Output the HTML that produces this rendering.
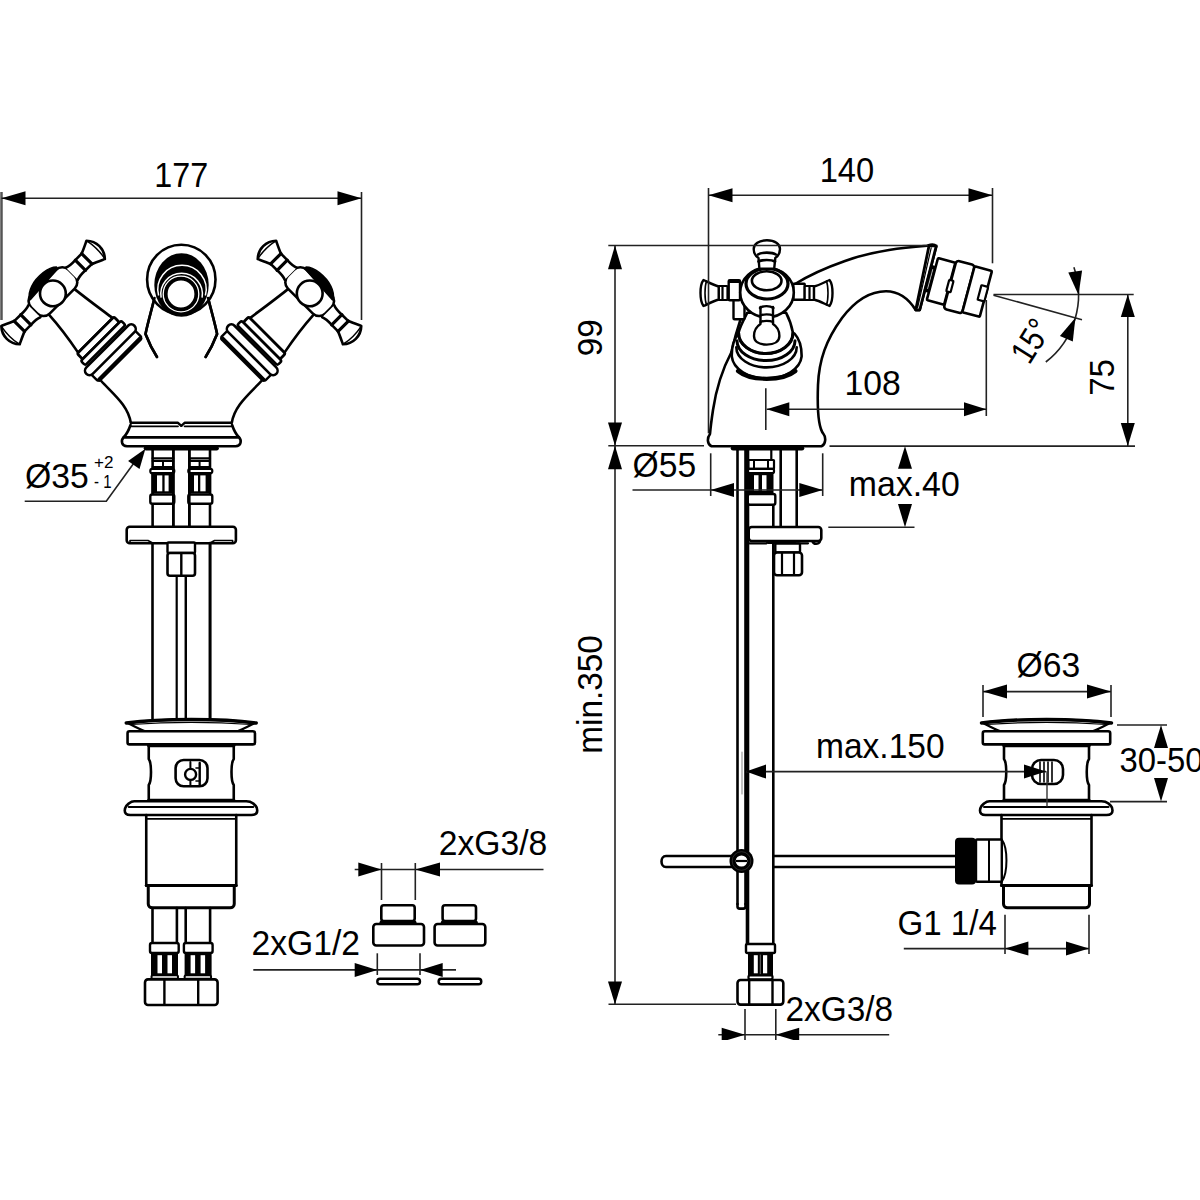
<!DOCTYPE html>
<html><head><meta charset="utf-8"><style>
html,body{margin:0;padding:0;background:#fff;}
svg{display:block;}
text{font-family:"Liberation Sans",sans-serif;fill:#000;}
</style></head><body>
<svg width="1200" height="1200" viewBox="0 0 1200 1200">
<rect width="1200" height="1200" fill="#fff"/>
<g>
<g id="lh">
<g transform="translate(53.1,292.5) rotate(-45)">
<path d="M-18.5,12 C-19.5,30 -22,46 -24.8,60.2 L24,60.2 C22,46 19.5,30 17.5,12" stroke="#000" stroke-width="2.6" fill="#fff" stroke-linejoin="round" stroke-linecap="round" />
<rect x="-26.20" y="60.20" width="52.00" height="7.80" rx="2" stroke="#000" stroke-width="2.8" fill="#fff"/>
<rect x="-28.80" y="68.00" width="57.00" height="6.20" rx="2" stroke="#000" stroke-width="2.6" fill="#fff"/>
<rect x="-31.00" y="81.00" width="62.00" height="13.00" rx="1" stroke="#000" stroke-width="2.4" fill="#fff"/>
<rect x="-34.00" y="76.50" width="68.00" height="9.00" rx="4.5" stroke="#000" stroke-width="2.6" fill="#fff"/>
<path d="M-29,94.3 L29,94.3" stroke="#000" stroke-width="4.4" fill="none" stroke-linejoin="round" stroke-linecap="round" />
<rect x="-26" y="-14" width="53" height="26.5" rx="9" stroke="#000" stroke-width="2.6" fill="#fff"/>
<path d="M-22,-11.5 C-17,-19 -6,-22.5 7,-21 C13,-20.3 17.5,-18.5 20.5,-15.5 L20,-13.5 L-21,-11 Z" stroke="#000" stroke-width="1.5" fill="#000" stroke-linejoin="round" stroke-linecap="round" />
<g transform="scale(1,1)">
<path d="M26.5,-8.5 C30,-7 34,-7 38.6,-7.2 L47.7,-7.3 C52,-9 56,-11 60.2,-13 A18.6,18.6 0 0 1 60.2,13 C56,11 52,9 47.7,7.3 L38.6,7.2 C34,7 30,7 26.5,8.5" stroke="#000" stroke-width="2.6" fill="#fff" stroke-linejoin="round" stroke-linecap="round" />
<line x1="38.60" y1="-7.20" x2="38.60" y2="7.20" stroke="#000" stroke-width="3.2" stroke-linecap="round"/>
<line x1="47.70" y1="-7.30" x2="47.70" y2="7.30" stroke="#000" stroke-width="3.2" stroke-linecap="round"/>
<path d="M60.5,-12.3 C62,-5 62,5 60.5,12.3" stroke="#000" stroke-width="1.5" fill="none" stroke-linejoin="round" stroke-linecap="round" />
</g>
<g transform="scale(-1,1)">
<path d="M26.5,-8.5 C30,-7 34,-7 38.6,-7.2 L47.7,-7.3 C52,-9 56,-11 60.2,-13 A18.6,18.6 0 0 1 60.2,13 C56,11 52,9 47.7,7.3 L38.6,7.2 C34,7 30,7 26.5,8.5" stroke="#000" stroke-width="2.6" fill="#fff" stroke-linejoin="round" stroke-linecap="round" />
<line x1="38.60" y1="-7.20" x2="38.60" y2="7.20" stroke="#000" stroke-width="3.2" stroke-linecap="round"/>
<line x1="47.70" y1="-7.30" x2="47.70" y2="7.30" stroke="#000" stroke-width="3.2" stroke-linecap="round"/>
<path d="M60.5,-12.3 C62,-5 62,5 60.5,12.3" stroke="#000" stroke-width="1.5" fill="none" stroke-linejoin="round" stroke-linecap="round" />
</g>
<ellipse cx="-0.8" cy="0.5" rx="12.9" ry="12.9" stroke="#000" stroke-width="2.6" fill="#fff"/>
</g>
<path d="M100.8,380.5 C113,394 128,405 130.8,422.8" stroke="#000" stroke-width="2.6" fill="none" stroke-linejoin="round" stroke-linecap="round" />
<path d="M154.5,298 C151,312 147.5,324 145.5,334 C149,343 152.5,350 157,357" stroke="#000" stroke-width="2.6" fill="none" stroke-linejoin="round" stroke-linecap="round" />
<path d="M131,422.8 L178,422.8 L181.3,425.8" stroke="#000" stroke-width="2.4" fill="none" stroke-linejoin="round" stroke-linecap="round" />
<path d="M130,426.3 L178,426.3" stroke="#000" stroke-width="1.8" fill="none" stroke-linejoin="round" stroke-linecap="round" />
<path d="M130.5,425 C128.5,431 126,435 123.5,437.5" stroke="#000" stroke-width="2.6" fill="none" stroke-linejoin="round" stroke-linecap="round" />
<line x1="152.60" y1="450.00" x2="152.60" y2="526.00" stroke="#000" stroke-width="2.6" stroke-linecap="round"/>
<line x1="173.30" y1="450.00" x2="173.30" y2="526.00" stroke="#000" stroke-width="2.6" stroke-linecap="round"/>
<line x1="152.60" y1="458.30" x2="173.30" y2="458.30" stroke="#000" stroke-width="2.2" stroke-linecap="round"/>
<line x1="152.60" y1="461.00" x2="173.30" y2="461.00" stroke="#000" stroke-width="2" stroke-linecap="round"/>
<line x1="152.60" y1="467.00" x2="173.30" y2="467.00" stroke="#000" stroke-width="2" stroke-linecap="round"/>
<line x1="163.00" y1="461.00" x2="163.00" y2="467.00" stroke="#000" stroke-width="2" stroke-linecap="round"/>
<rect x="150.30" y="468.80" width="24.00" height="4.40" rx="2" stroke="#000" stroke-width="2.2" fill="#fff"/>
<rect x="151.50" y="473.20" width="22.00" height="20.30" rx="0" stroke="none" fill="#000"/>
<rect x="157.00" y="475.40" width="5.30" height="15.90" rx="0" stroke="none" fill="#fff"/>
<rect x="164.60" y="475.40" width="4.00" height="15.90" rx="0" stroke="none" fill="#fff"/>
<rect x="150.30" y="494.50" width="24.00" height="9.30" rx="2" stroke="#000" stroke-width="2.4" fill="#fff"/>
<line x1="152.50" y1="543.00" x2="152.50" y2="722.00" stroke="#000" stroke-width="2.6" stroke-linecap="round"/>
<line x1="176.70" y1="576.00" x2="176.70" y2="722.00" stroke="#000" stroke-width="2.2" stroke-linecap="round"/>
<line x1="152.50" y1="908.00" x2="152.50" y2="943.00" stroke="#000" stroke-width="2.6" stroke-linecap="round"/>
<line x1="176.90" y1="908.00" x2="176.90" y2="943.00" stroke="#000" stroke-width="2.6" stroke-linecap="round"/>
<rect x="150.00" y="943.00" width="28.70" height="10.00" rx="2" stroke="#000" stroke-width="2.4" fill="#fff"/>
<rect x="151.00" y="953.00" width="27.00" height="22.50" rx="0" stroke="none" fill="#000"/>
<rect x="157.50" y="955.20" width="4.50" height="18.10" rx="0" stroke="none" fill="#fff"/>
<rect x="167.50" y="955.20" width="4.50" height="18.10" rx="0" stroke="none" fill="#fff"/>
<rect x="151.50" y="975.30" width="26.50" height="3.50" rx="1.5" stroke="#000" stroke-width="2" fill="#fff"/>
<line x1="164.40" y1="980.00" x2="164.40" y2="1004.50" stroke="#000" stroke-width="2.4" stroke-linecap="round"/>
</g>
<use href="#lh" transform="translate(362.6,0) scale(-1,1)"/>
<path d="M123.5,437.5 C121,440 121,446 127,446.2 L235.6,446.2 C241.6,446 241.6,440 239.1,437.5 Z" stroke="#000" stroke-width="2.6" fill="#fff" stroke-linejoin="round" stroke-linecap="round" />
<line x1="124.00" y1="437.00" x2="238.60" y2="437.00" stroke="#000" stroke-width="2.2" stroke-linecap="round"/>
<line x1="146.00" y1="448.30" x2="216.60" y2="448.30" stroke="#000" stroke-width="4.5" stroke-linecap="round"/>
<ellipse cx="181.3" cy="279.5" rx="34.2" ry="34.8" stroke="#000" stroke-width="2.6" fill="#fff"/>
<ellipse cx="181.5" cy="285" rx="27.2" ry="31.8" fill="#000"/>
<path d="M158.62,295.51 A24.2,24 0 1 1 205.38,295.51" stroke="#fff" stroke-width="1.5" fill="none"/>
<path d="M161.12,297.59 A20.8,20.7 0 1 1 202.08,297.59" stroke="#fff" stroke-width="1.5" fill="none"/>
<ellipse cx="181" cy="294" rx="17.8" ry="17.8" stroke="#fff" stroke-width="1.3" fill="none"/>
<ellipse cx="181" cy="294" rx="15" ry="15" stroke="#000" stroke-width="3.2" fill="#fff"/>
<path d="M154.5,298 C151,312 147.5,324 145.5,334 C149,343 152.5,350 157,357" stroke="#000" stroke-width="2.6" fill="none" stroke-linejoin="round" stroke-linecap="round" />
<path d="M208.1,298 C211.6,312 215.1,324 217.1,334 C213.6,343 210.1,350 205.6,357" stroke="#000" stroke-width="2.6" fill="none" stroke-linejoin="round" stroke-linecap="round" />
<line x1="173.30" y1="450.00" x2="173.30" y2="526.00" stroke="#000" stroke-width="2.6" stroke-linecap="round"/>
<line x1="189.30" y1="450.00" x2="189.30" y2="526.00" stroke="#000" stroke-width="2.6" stroke-linecap="round"/>
<rect x="126.70" y="526.70" width="109.20" height="16.60" rx="3" stroke="#000" stroke-width="2.6" fill="#fff"/>
<path d="M130,543 L130,540.5 L148,540.5 L152.6,543" stroke="#000" stroke-width="1.6" fill="none" stroke-linejoin="round" stroke-linecap="round" />
<path d="M232.6,543 L232.6,540.5 L214.6,540.5 L210,543" stroke="#000" stroke-width="1.6" fill="none" stroke-linejoin="round" stroke-linecap="round" />
<line x1="210.00" y1="543.00" x2="210.00" y2="722.00" stroke="#000" stroke-width="2.6" stroke-linecap="round"/>
<line x1="185.80" y1="576.00" x2="185.80" y2="722.00" stroke="#000" stroke-width="2.2" stroke-linecap="round"/>
<rect x="167.50" y="542.50" width="27.50" height="10.50" rx="1" stroke="#000" stroke-width="2.4" fill="#fff"/>
<rect x="167.50" y="553.00" width="27.50" height="22.80" rx="2.5" stroke="#000" stroke-width="2.6" fill="#fff"/>
<line x1="181.30" y1="554.00" x2="181.30" y2="575.50" stroke="#000" stroke-width="2.4" stroke-linecap="round"/>
<rect x="145.00" y="979.40" width="72.60" height="25.60" rx="3" stroke="#000" stroke-width="2.6" fill="#fff"/>
<line x1="164.40" y1="980.00" x2="164.40" y2="1004.50" stroke="#000" stroke-width="2.4" stroke-linecap="round"/>
<line x1="198.20" y1="980.00" x2="198.20" y2="1004.50" stroke="#000" stroke-width="2.4" stroke-linecap="round"/>
<g transform="translate(191.25,0)">
<path d="M-64,723 C-57,726 -52,729.5 -46,731.3 L46,731.3 C52,729.5 57,726 64,723 C50,721 25,719.3 0,719.3 C-25,719.3 -50,721 -64,723 Z" stroke="#000" stroke-width="2.2" fill="#fff" stroke-linejoin="round" stroke-linecap="round" />
<path d="M-65,723 C-50,721 -25,719.5 0,719.5 C25,719.5 50,721 65,723" stroke="#000" stroke-width="3.4" fill="none" stroke-linejoin="round" stroke-linecap="round" />
<path d="M-60,724.5 C-40,723 -20,722.3 0,722.3 C20,722.3 40,723 60,724.5" stroke="#000" stroke-width="1.2" fill="none" stroke-linejoin="round" stroke-linecap="round" />
<rect x="-63.70" y="731.30" width="127.40" height="13.10" rx="2" stroke="#000" stroke-width="2.6" fill="#fff"/>
<path d="M-42.5,744.5 L-42.5,759 C-39.5,763 -39.5,781 -42.5,785 L-42.5,800.5 M42.5,744.5 L42.5,759 C39.5,763 39.5,781 42.5,785 L42.5,800.5" stroke="#000" stroke-width="2.6" fill="none" stroke-linejoin="round" stroke-linecap="round" />
<line x1="-42.50" y1="745.50" x2="42.50" y2="745.50" stroke="#000" stroke-width="3.5" stroke-linecap="round"/>
<line x1="-42.50" y1="800.50" x2="42.50" y2="800.50" stroke="#000" stroke-width="3.5" stroke-linecap="round"/>
<path d="M-57,801.3 L55,801.3 C58,801.3 60,802 62,803.5 L64.5,806 C66,807.5 66,809 66,810.5 C66,813.5 64,815 60,815 L-61,815 C-65,815 -66.5,813.5 -66.5,810.5 C-66.5,809 -66,807.5 -65,806 L-62.5,803.5 C-60.5,802 -59,801.3 -57,801.3 Z" stroke="#000" stroke-width="2.6" fill="#fff" stroke-linejoin="round" stroke-linecap="round" />
<line x1="-62.50" y1="807.00" x2="62.00" y2="807.00" stroke="#000" stroke-width="2" stroke-linecap="round"/>
<line x1="-45.00" y1="815.00" x2="-45.00" y2="885.60" stroke="#000" stroke-width="2.6" stroke-linecap="round"/>
<line x1="45.00" y1="815.00" x2="45.00" y2="885.60" stroke="#000" stroke-width="2.6" stroke-linecap="round"/>
<line x1="-44.00" y1="818.80" x2="44.00" y2="818.80" stroke="#000" stroke-width="1.8" stroke-linecap="round"/>
<line x1="-45.00" y1="885.60" x2="45.00" y2="885.60" stroke="#000" stroke-width="3" stroke-linecap="round"/>
<path d="M-43,885.6 L-43,904 C-43,906.5 -41,907.8 -39,907.8 L39,907.8 C41,907.8 43,906.5 43,904 L43,885.6" stroke="#000" stroke-width="3" fill="none" stroke-linejoin="round" stroke-linecap="round" />
</g>
<rect x="175.60" y="760.00" width="31.90" height="26.30" rx="8" stroke="#000" stroke-width="2.6" fill="#fff"/>
<ellipse cx="190.6" cy="774.4" rx="5.5" ry="5.5" stroke="#000" stroke-width="2.4" fill="#fff"/>
<line x1="190.40" y1="762.00" x2="190.40" y2="768.50" stroke="#000" stroke-width="2" stroke-linecap="round"/>
<line x1="190.40" y1="780.00" x2="190.40" y2="786.00" stroke="#000" stroke-width="2" stroke-linecap="round"/>
<line x1="199.70" y1="763.00" x2="199.70" y2="785.00" stroke="#000" stroke-width="2.4" stroke-linecap="round"/>
<line x1="196.00" y1="768.00" x2="199.70" y2="768.00" stroke="#000" stroke-width="1.6" stroke-linecap="round"/>
<line x1="196.00" y1="781.00" x2="199.70" y2="781.00" stroke="#000" stroke-width="1.6" stroke-linecap="round"/>
<rect x="381.30" y="905.30" width="33.40" height="15.70" rx="2.5" stroke="#000" stroke-width="2.6" fill="#fff"/>
<line x1="381.30" y1="922.20" x2="414.70" y2="922.20" stroke="#000" stroke-width="3.5" stroke-linecap="round"/>
<rect x="373.30" y="924.00" width="50.70" height="21.50" rx="3" stroke="#000" stroke-width="2.6" fill="#fff"/>
<rect x="377.30" y="978.70" width="42.70" height="5.50" rx="2.7" stroke="#000" stroke-width="2.4" fill="#fff"/>
<rect x="442.60" y="905.30" width="33.40" height="15.70" rx="2.5" stroke="#000" stroke-width="2.6" fill="#fff"/>
<line x1="442.60" y1="922.20" x2="476.00" y2="922.20" stroke="#000" stroke-width="3.5" stroke-linecap="round"/>
<rect x="434.60" y="924.00" width="50.70" height="21.50" rx="3" stroke="#000" stroke-width="2.6" fill="#fff"/>
<rect x="438.60" y="978.70" width="42.70" height="5.50" rx="2.7" stroke="#000" stroke-width="2.4" fill="#fff"/>
<path d="M731.5,352 C722,370 716,390 713,410 C711.5,420 710.5,428 710,434 C707,438 707,444.5 711.5,446.2 L821.5,446.2 C826,444.5 826,437 823.5,434 C818.5,428 817,412 818,385 C819,360 826,340 842,318 C855,301 870,291.3 886,291.3 C898,291.3 908,298 915.7,310 L919.7,310 L936.3,246.5 C934,243.5 931,244.5 927,245.8 C905,247.5 875,250 845,261 C825,268 808,276 795,284" stroke="#000" stroke-width="2.6" fill="#fff" stroke-linejoin="round" stroke-linecap="round" />
<path d="M929,245.9 L936.3,245.9 L919.7,310 L915.7,310 Z" stroke="#000" stroke-width="2.8" fill="#fff" stroke-linejoin="round" stroke-linecap="round" />
<line x1="931.20" y1="247.80" x2="917.60" y2="307.60" stroke="#000" stroke-width="1.2" stroke-linecap="round"/>
<line x1="733.00" y1="448.30" x2="802.00" y2="448.30" stroke="#000" stroke-width="4.5" stroke-linecap="round"/>
<path d="M740.5,319.5 C737,330 734,341 731.5,352" stroke="#000" stroke-width="2.6" fill="none" stroke-linejoin="round" stroke-linecap="round" />
<path d="M738.5,333.5 C734,339 731.5,347 731.8,356.7 A35,23.7 0 0 0 801.6,356.7 C801.8,347 799.5,339 794.5,333.5 Z" stroke="#000" stroke-width="2.6" fill="#fff" stroke-linejoin="round" stroke-linecap="round" />
<path d="M738,371 C746,377.5 756,378.8 766.7,378.8 C777.4,378.8 787.4,377.5 795.4,371" stroke="#000" stroke-width="4.2" fill="none" stroke-linejoin="round" stroke-linecap="round" />
<path d="M736.30,347.20 A30.2,20.2 0 0 0 796.70,347.20" stroke="#000" stroke-width="2.6" fill="none" stroke-linejoin="round" stroke-linecap="round" />
<path d="M737.00,340.80 A29,19.8 0 0 0 795.00,340.80" stroke="#000" stroke-width="3" fill="none" stroke-linejoin="round" stroke-linecap="round" />
<path d="M747.3,312.7 C743,321 739.5,328 738.5,333 A27.2,20.5 0 0 0 793,333 C792,328 790.4,321 786,312.7 Z" stroke="#000" stroke-width="2.6" fill="#fff" stroke-linejoin="round" stroke-linecap="round" />
<path d="M738.55,333.00 A27.2,20.5 0 0 0 792.95,333.00" stroke="#000" stroke-width="3.2" fill="none" stroke-linejoin="round" stroke-linecap="round" />
<rect x="733.50" y="299.00" width="11.00" height="20.30" rx="1" stroke="#000" stroke-width="2.4" fill="#fff"/>
<rect x="728.70" y="280.20" width="11.30" height="20.10" rx="1" stroke="#000" stroke-width="2.4" fill="#fff"/>
<line x1="730.00" y1="281.50" x2="739.00" y2="281.50" stroke="#000" stroke-width="3" stroke-linecap="round"/>
<rect x="718.70" y="286.00" width="8.80" height="14.00" rx="0.5" stroke="#000" stroke-width="2.2" fill="#fff"/>
<line x1="722.50" y1="286.00" x2="722.50" y2="300.00" stroke="#000" stroke-width="2.2" stroke-linecap="round"/>
<path d="M718.7,286.5 C713,285 708,282 703.5,280 C699.5,285 699.5,301 703.5,306 C708,304 713,301 718.7,299.5 Z" stroke="#000" stroke-width="2.4" fill="#fff" stroke-linejoin="round" stroke-linecap="round" />
<path d="M706.5,281 C704.5,287 704.5,299 706.5,305" stroke="#000" stroke-width="1.6" fill="none" stroke-linejoin="round" stroke-linecap="round" />
<rect x="793.30" y="283.70" width="11.40" height="16.00" rx="0.5" stroke="#000" stroke-width="2.4" fill="#fff"/>
<rect x="804.70" y="286.00" width="9.30" height="14.00" rx="0.5" stroke="#000" stroke-width="2.2" fill="#fff"/>
<line x1="809.50" y1="286.00" x2="809.50" y2="300.00" stroke="#000" stroke-width="2.2" stroke-linecap="round"/>
<path d="M814,286.5 C819.7,285 824.7,282 829.5,280 C833.5,285 833.5,301 829.5,306 C824.7,304 819.7,301 814,299.5 Z" stroke="#000" stroke-width="2.4" fill="#fff" stroke-linejoin="round" stroke-linecap="round" />
<path d="M826.5,281 C828.5,287 828.5,299 826.5,305" stroke="#000" stroke-width="1.6" fill="none" stroke-linejoin="round" stroke-linecap="round" />
<ellipse cx="767" cy="292.5" rx="26.8" ry="24.8" stroke="#000" stroke-width="2.6" fill="#fff"/>
<ellipse cx="767" cy="283.7" rx="21" ry="15.3" stroke="#000" stroke-width="3.2" fill="none"/>
<ellipse cx="766.7" cy="280.8" rx="14.8" ry="9.5" stroke="#000" stroke-width="2.6" fill="none"/>
<path d="M759.3,267.5 L758.5,258 C755.5,256 753.7,253 753.7,249 C753.7,244 759,240.3 766.9,240.3 C774.8,240.3 780,244 780,249 C780,253 778.2,256 775.3,258 L774.3,267.5" stroke="#000" stroke-width="2.4" fill="#fff" stroke-linejoin="round" stroke-linecap="round" />
<path d="M758,254.5 C761,252 772.5,252 775.8,254.5" stroke="#000" stroke-width="2.6" fill="none" stroke-linejoin="round" stroke-linecap="round" />
<path d="M758.5,261.5 C762,259.5 771.5,259.5 775,261.5" stroke="#000" stroke-width="2.6" fill="none" stroke-linejoin="round" stroke-linecap="round" />
<path d="M760.5,307 L760.5,324 C756.5,326.5 754,331 754,336 C754,341.5 759,344.6 766.7,344.6 C774.4,344.6 779.4,341.5 779.4,336 C779.4,331 777,326.5 773,324 L773,307" stroke="#000" stroke-width="2.4" fill="#fff" stroke-linejoin="round" stroke-linecap="round" />
<path d="M760,308 C763,305.5 770,305.5 773.4,308" stroke="#000" stroke-width="2.4" fill="none" stroke-linejoin="round" stroke-linecap="round" />
<path d="M760.5,315.5 C763,314 770,314 773,315.5" stroke="#000" stroke-width="2.4" fill="none" stroke-linejoin="round" stroke-linecap="round" />
<path d="M760.5,322 C763,320.5 770,320.5 773,322" stroke="#000" stroke-width="2.4" fill="none" stroke-linejoin="round" stroke-linecap="round" />
<g transform="translate(938,258) rotate(15)">
<rect x="-4.50" y="9.50" width="4.50" height="25.50" rx="0.5" stroke="#000" stroke-width="2.2" fill="#000"/>
<rect x="-2.60" y="12.00" width="1.00" height="20.50" rx="0" stroke="none" fill="#bbb"/>
<rect x="0.00" y="0.00" width="18.00" height="43.50" rx="1" stroke="#000" stroke-width="2.6" fill="#fff"/>
<rect x="18.50" y="-2.50" width="19.00" height="50.00" rx="3" stroke="#000" stroke-width="2.6" fill="#fff"/>
<rect x="37.50" y="-1.50" width="18.00" height="47.50" rx="1" stroke="#000" stroke-width="2.6" fill="#fff"/>
<rect x="16.50" y="18.00" width="4.50" height="12.00" rx="1" stroke="#000" stroke-width="2.2" fill="#fff"/>
<rect x="49.00" y="15.00" width="7.00" height="15.00" rx="0.5" stroke="#000" stroke-width="2.2" fill="#fff"/>
</g>
<line x1="737.50" y1="450.00" x2="737.50" y2="904.00" stroke="#000" stroke-width="2.6" stroke-linecap="round"/>
<line x1="745.50" y1="450.00" x2="745.50" y2="850.00" stroke="#000" stroke-width="2.6" stroke-linecap="round"/>
<line x1="745.50" y1="872.00" x2="745.50" y2="904.00" stroke="#000" stroke-width="2.6" stroke-linecap="round"/>
<path d="M737.5,904 L737.5,906.5 Q737.5,908.6 739.6,908.6 L743.4,908.6 Q745.5,908.6 745.5,906.5 L745.5,904" stroke="#000" stroke-width="2.6" fill="none" stroke-linejoin="round" stroke-linecap="round" />
<line x1="747.50" y1="450.00" x2="747.50" y2="944.00" stroke="#000" stroke-width="3.6" stroke-linecap="round"/>
<line x1="773.30" y1="504.00" x2="773.30" y2="944.00" stroke="#000" stroke-width="2.6" stroke-linecap="round"/>
<line x1="780.70" y1="450.00" x2="780.70" y2="526.00" stroke="#000" stroke-width="2.6" stroke-linecap="round"/>
<line x1="796.70" y1="450.00" x2="796.70" y2="526.00" stroke="#000" stroke-width="2.6" stroke-linecap="round"/>
<line x1="771.30" y1="450.00" x2="771.30" y2="460.00" stroke="#000" stroke-width="2.2" stroke-linecap="round"/>
<rect x="748.50" y="460.00" width="25.50" height="8.80" rx="0.5" stroke="#000" stroke-width="2.2" fill="#fff"/>
<line x1="754.00" y1="460.00" x2="754.00" y2="468.80" stroke="#000" stroke-width="2" stroke-linecap="round"/>
<line x1="768.00" y1="460.00" x2="768.00" y2="468.80" stroke="#000" stroke-width="2" stroke-linecap="round"/>
<rect x="748.00" y="468.80" width="26.00" height="4.20" rx="1.5" stroke="#000" stroke-width="2.2" fill="#fff"/>
<rect x="748.50" y="473.00" width="25.00" height="20.00" rx="0" stroke="none" fill="#000"/>
<rect x="754.00" y="475.20" width="4.50" height="15.60" rx="0" stroke="none" fill="#fff"/>
<rect x="762.00" y="475.20" width="4.50" height="15.60" rx="0" stroke="none" fill="#fff"/>
<rect x="747.80" y="494.00" width="27.50" height="10.70" rx="2" stroke="#000" stroke-width="2.4" fill="#fff"/>
<rect x="748.70" y="527.00" width="72.60" height="14.00" rx="3" stroke="#000" stroke-width="2.6" fill="#fff"/>
<line x1="749.50" y1="543.30" x2="766.50" y2="543.30" stroke="#000" stroke-width="2.2" stroke-linecap="round"/>
<line x1="768.00" y1="542.30" x2="794.00" y2="542.30" stroke="#000" stroke-width="3.6" stroke-linecap="round"/>
<line x1="795.50" y1="543.30" x2="808.00" y2="543.30" stroke="#000" stroke-width="2.2" stroke-linecap="round"/>
<path d="M812.5,541.5 C813.5,544.5 818.5,544.5 820,541.5" stroke="#000" stroke-width="2.4" fill="none" stroke-linejoin="round" stroke-linecap="round" />
<rect x="775.30" y="543.50" width="24.70" height="9.00" rx="1" stroke="#000" stroke-width="2.4" fill="#fff"/>
<rect x="774.00" y="552.50" width="28.00" height="22.80" rx="3" stroke="#000" stroke-width="2.6" fill="#fff"/>
<line x1="782.00" y1="553.50" x2="782.00" y2="575.00" stroke="#000" stroke-width="2.2" stroke-linecap="round"/>
<line x1="794.00" y1="553.50" x2="794.00" y2="575.00" stroke="#000" stroke-width="2.2" stroke-linecap="round"/>
<line x1="742.00" y1="752.00" x2="742.00" y2="794.00" stroke="#999" stroke-width="1.2" stroke-linecap="round"/>
<path d="M955,856 L773.3,856 M747.5,856 L666,856 C660,856 660,867 666,867 L747.5,867 M773.3,867 L955,867" stroke="#000" stroke-width="2.6" fill="none" stroke-linejoin="round" stroke-linecap="round" />
<circle cx="741.5" cy="861" r="12" fill="#000"/>
<ellipse cx="741.5" cy="861" rx="9.3" ry="9.3" stroke="#444" stroke-width="0.6" fill="none"/>
<ellipse cx="741.5" cy="861" rx="5.8" ry="5.6" fill="#fff"/>
<line x1="736.00" y1="861.00" x2="747.00" y2="861.00" stroke="#000" stroke-width="2.2" stroke-linecap="butt"/>
<rect x="746.00" y="944.00" width="29.00" height="9.00" rx="1.5" stroke="#000" stroke-width="2.4" fill="#fff"/>
<rect x="748.00" y="953.00" width="25.00" height="22.50" rx="0" stroke="none" fill="#000"/>
<rect x="753.80" y="955.20" width="4.00" height="18.10" rx="0" stroke="none" fill="#fff"/>
<rect x="763.00" y="955.20" width="4.20" height="18.10" rx="0" stroke="none" fill="#fff"/>
<line x1="760.30" y1="955.00" x2="760.30" y2="974.00" stroke="#888" stroke-width="0.8" stroke-linecap="round"/>
<rect x="748.50" y="975.30" width="24.00" height="4.00" rx="1.5" stroke="#000" stroke-width="2.2" fill="#fff"/>
<rect x="737.50" y="980.00" width="45.80" height="24.60" rx="3" stroke="#000" stroke-width="2.6" fill="#fff"/>
<line x1="749.20" y1="980.50" x2="749.20" y2="1004.00" stroke="#000" stroke-width="2.4" stroke-linecap="round"/>
<line x1="772.50" y1="980.50" x2="772.50" y2="1004.00" stroke="#000" stroke-width="2.4" stroke-linecap="round"/>
<g transform="translate(1046.5,0)">
<path d="M-64,723 C-57,726 -52,729.5 -46,731.3 L46,731.3 C52,729.5 57,726 64,723 C50,721 25,719.3 0,719.3 C-25,719.3 -50,721 -64,723 Z" stroke="#000" stroke-width="2.2" fill="#fff" stroke-linejoin="round" stroke-linecap="round" />
<path d="M-65,723 C-50,721 -25,719.5 0,719.5 C25,719.5 50,721 65,723" stroke="#000" stroke-width="3.4" fill="none" stroke-linejoin="round" stroke-linecap="round" />
<path d="M-60,724.5 C-40,723 -20,722.3 0,722.3 C20,722.3 40,723 60,724.5" stroke="#000" stroke-width="1.2" fill="none" stroke-linejoin="round" stroke-linecap="round" />
<rect x="-63.70" y="731.30" width="127.40" height="13.10" rx="2" stroke="#000" stroke-width="2.6" fill="#fff"/>
<path d="M-42.5,744.5 L-42.5,759 C-39.5,763 -39.5,781 -42.5,785 L-42.5,800.5 M42.5,744.5 L42.5,759 C39.5,763 39.5,781 42.5,785 L42.5,800.5" stroke="#000" stroke-width="2.6" fill="none" stroke-linejoin="round" stroke-linecap="round" />
<line x1="-42.50" y1="745.50" x2="42.50" y2="745.50" stroke="#000" stroke-width="3.5" stroke-linecap="round"/>
<line x1="-42.50" y1="800.50" x2="42.50" y2="800.50" stroke="#000" stroke-width="3.5" stroke-linecap="round"/>
<path d="M-57,801.3 L55,801.3 C58,801.3 60,802 62,803.5 L64.5,806 C66,807.5 66,809 66,810.5 C66,813.5 64,815 60,815 L-61,815 C-65,815 -66.5,813.5 -66.5,810.5 C-66.5,809 -66,807.5 -65,806 L-62.5,803.5 C-60.5,802 -59,801.3 -57,801.3 Z" stroke="#000" stroke-width="2.6" fill="#fff" stroke-linejoin="round" stroke-linecap="round" />
<line x1="-62.50" y1="807.00" x2="62.00" y2="807.00" stroke="#000" stroke-width="2" stroke-linecap="round"/>
<line x1="-45.00" y1="815.00" x2="-45.00" y2="885.60" stroke="#000" stroke-width="2.6" stroke-linecap="round"/>
<line x1="45.00" y1="815.00" x2="45.00" y2="885.60" stroke="#000" stroke-width="2.6" stroke-linecap="round"/>
<line x1="-44.00" y1="818.80" x2="44.00" y2="818.80" stroke="#000" stroke-width="1.8" stroke-linecap="round"/>
<line x1="-45.00" y1="885.60" x2="45.00" y2="885.60" stroke="#000" stroke-width="3" stroke-linecap="round"/>
<path d="M-43,885.6 L-43,904 C-43,906.5 -41,907.8 -39,907.8 L39,907.8 C41,907.8 43,906.5 43,904 L43,885.6" stroke="#000" stroke-width="3" fill="none" stroke-linejoin="round" stroke-linecap="round" />
</g>
<rect x="1032.00" y="760.00" width="31.00" height="24.00" rx="9" stroke="#000" stroke-width="2.6" fill="#fff"/>
<line x1="1040.00" y1="762.00" x2="1040.00" y2="782.00" stroke="#000" stroke-width="1.6" stroke-linecap="round"/>
<line x1="1044.00" y1="762.00" x2="1044.00" y2="782.00" stroke="#000" stroke-width="1.6" stroke-linecap="round"/>
<line x1="1048.00" y1="762.00" x2="1048.00" y2="782.00" stroke="#000" stroke-width="1.6" stroke-linecap="round"/>
<line x1="1052.00" y1="762.00" x2="1052.00" y2="782.00" stroke="#000" stroke-width="1.6" stroke-linecap="round"/>
<line x1="1047.00" y1="771.60" x2="1047.00" y2="806.00" stroke="#333" stroke-width="1.4" stroke-linecap="round"/>
<rect x="976.00" y="839.50" width="25.80" height="42.20" rx="1" stroke="#000" stroke-width="2.4" fill="#fff"/>
<line x1="989.00" y1="840.00" x2="989.00" y2="881.00" stroke="#000" stroke-width="2" stroke-linecap="round"/>
<path d="M1001.8,839.5 C1008,848 1008,873 1001.8,881.7" stroke="#000" stroke-width="2" fill="none" stroke-linejoin="round" stroke-linecap="round" />
<rect x="955" y="837.7" width="21" height="46.7" rx="4" fill="#000"/>
</g>
<g>
<line x1="1.5" y1="192.0" x2="1.5" y2="320.0" stroke="#555" stroke-width="2.5"/>
<line x1="361.5" y1="192.0" x2="361.5" y2="320.0" stroke="#222" stroke-width="1.6" fill="none"/>
<line x1="1.5" y1="198.3" x2="361.5" y2="198.3" stroke="#222" stroke-width="1.6" fill="none"/>
<polygon points="1.5,198.3 25.5,191.3 25.5,205.3" fill="#000"/>
<polygon points="361.5,198.3 337.5,205.3 337.5,191.3" fill="#000"/>
<text x="154.3" y="186.5" font-size="34.5" textLength="53.9" lengthAdjust="spacingAndGlyphs">177</text>
<text x="25" y="487.5" font-size="34.5" textLength="63.8" lengthAdjust="spacingAndGlyphs">Ø35</text>
<text x="94" y="467.5" font-size="16.8" textLength="19.5" lengthAdjust="spacingAndGlyphs">+2</text>
<text x="94" y="487.5" font-size="17.5" textLength="17.5" lengthAdjust="spacingAndGlyphs">- 1</text>
<polyline points="24.7,501.3 106.3,501.3 139,456" stroke="#222" stroke-width="1.6" fill="none"/>
<polygon points="145.4,448.8 139.5,469.1 128.1,460.9" fill="#000"/>
<line x1="354.7" y1="869.5" x2="543.5" y2="869.5" stroke="#222" stroke-width="1.6" fill="none"/>
<polygon points="381.5,869.5 358.3,876.5 358.3,862.5" fill="#000"/>
<polygon points="415.3,869.5 440.0,862.5 440.0,876.5" fill="#000"/>
<line x1="381.5" y1="863.0" x2="381.5" y2="900.0" stroke="#222" stroke-width="1.6" fill="none"/>
<line x1="415.3" y1="863.0" x2="415.3" y2="900.0" stroke="#222" stroke-width="1.6" fill="none"/>
<text x="438.8" y="854.8" font-size="34.5" textLength="108.5" lengthAdjust="spacingAndGlyphs">2xG3/8</text>
<line x1="253.3" y1="969.9" x2="456.0" y2="969.9" stroke="#222" stroke-width="1.6" fill="none"/>
<polygon points="377.3,969.9 354.7,976.9 354.7,962.9" fill="#000"/>
<polygon points="420.0,969.9 442.7,962.9 442.7,976.9" fill="#000"/>
<line x1="377.3" y1="953.3" x2="377.3" y2="975.0" stroke="#222" stroke-width="1.6" fill="none"/>
<line x1="420.0" y1="953.3" x2="420.0" y2="975.0" stroke="#222" stroke-width="1.6" fill="none"/>
<text x="251.5" y="954.7" font-size="34.5" textLength="108.5" lengthAdjust="spacingAndGlyphs">2xG1/2</text>
<line x1="708.5" y1="188.0" x2="708.5" y2="433.3" stroke="#222" stroke-width="1.6" fill="none"/>
<line x1="992.5" y1="188.0" x2="992.5" y2="263.3" stroke="#222" stroke-width="1.6" fill="none"/>
<line x1="708.5" y1="195.3" x2="992.5" y2="195.3" stroke="#222" stroke-width="1.6" fill="none"/>
<polygon points="708.5,195.3 732.5,188.3 732.5,202.3" fill="#000"/>
<polygon points="992.5,195.3 968.5,202.3 968.5,188.3" fill="#000"/>
<text x="819.7" y="182.3" font-size="34.5" textLength="54.5" lengthAdjust="spacingAndGlyphs">140</text>
<line x1="608.3" y1="245.5" x2="928.0" y2="245.5" stroke="#222" stroke-width="1.6" fill="none"/>
<line x1="615.0" y1="245.5" x2="615.0" y2="1004.3" stroke="#222" stroke-width="1.6" fill="none"/>
<polygon points="615.0,245.5 622.0,269.2 608.0,269.2" fill="#000"/>
<polygon points="615.0,445.8 608.0,422.5 622.0,422.5" fill="#000"/>
<text x="601.9" y="356.2" font-size="34.5" textLength="36.9" lengthAdjust="spacingAndGlyphs" transform="rotate(-90 601.9 356.2)">99</text>
<line x1="608.3" y1="445.8" x2="704.0" y2="445.8" stroke="#222" stroke-width="1.6" fill="none"/>
<line x1="829.5" y1="446.1" x2="1135.0" y2="446.1" stroke="#222" stroke-width="1.6" fill="none"/>
<polygon points="615.0,445.8 622.0,469.2 608.0,469.2" fill="#000"/>
<polygon points="615.0,1004.3 608.0,981.5 622.0,981.5" fill="#000"/>
<line x1="608.5" y1="1004.3" x2="736.0" y2="1004.3" stroke="#222" stroke-width="1.6" fill="none"/>
<text x="602" y="753.8" font-size="34.5" textLength="118.7" lengthAdjust="spacingAndGlyphs" transform="rotate(-90 602 753.8)">min.350</text>
<line x1="993.5" y1="294.5" x2="1133.7" y2="294.5" stroke="#222" stroke-width="1.6" fill="none"/>
<line x1="1127.8" y1="294.5" x2="1127.8" y2="446.0" stroke="#222" stroke-width="1.6" fill="none"/>
<polygon points="1127.8,294.5 1134.8,317.0 1120.8,317.0" fill="#000"/>
<polygon points="1127.8,446.0 1120.8,423.0 1134.8,423.0" fill="#000"/>
<text x="1114.3" y="395.8" font-size="34.5" textLength="36.7" lengthAdjust="spacingAndGlyphs" transform="rotate(-90 1114.3 395.8)">75</text>
<line x1="993.5" y1="295.2" x2="1082.0" y2="319.7" stroke="#222" stroke-width="1.6" fill="none"/>
<path d="M1073.9,267.3 A85,85 0 0 1 1045.8,362.0" stroke="#222" stroke-width="1.6" fill="none"/>
<polygon points="1078.5,295.0 1068.3,272.5 1082.1,270.6" fill="#000"/>
<polygon points="1075.4,317.7 1072.8,341.5 1059.9,336.0" fill="#000"/>
<text x="1041" y="347" font-size="34.5" textLength="44" lengthAdjust="spacingAndGlyphs" text-anchor="middle" transform="rotate(-58 1041 347)">15°</text>
<line x1="765.8" y1="388.3" x2="765.8" y2="430.0" stroke="#222" stroke-width="1.6" fill="none"/>
<line x1="986.3" y1="300.0" x2="986.3" y2="416.0" stroke="#222" stroke-width="1.6" fill="none"/>
<line x1="766.7" y1="409.3" x2="986.3" y2="409.3" stroke="#222" stroke-width="1.6" fill="none"/>
<polygon points="766.7,409.3 789.3,402.3 789.3,416.3" fill="#000"/>
<polygon points="986.3,409.3 964.0,416.3 964.0,402.3" fill="#000"/>
<text x="844.5" y="394.7" font-size="34.5" textLength="56.3" lengthAdjust="spacingAndGlyphs">108</text>
<line x1="710.7" y1="453.3" x2="710.7" y2="496.0" stroke="#222" stroke-width="1.6" fill="none"/>
<line x1="822.7" y1="453.3" x2="822.7" y2="496.0" stroke="#222" stroke-width="1.6" fill="none"/>
<line x1="632.5" y1="490.0" x2="822.7" y2="490.0" stroke="#222" stroke-width="1.6" fill="none"/>
<polygon points="710.7,490.0 734.0,483.0 734.0,497.0" fill="#000"/>
<polygon points="822.7,490.0 799.3,497.0 799.3,483.0" fill="#000"/>
<text x="632.5" y="476.7" font-size="34.5" textLength="63.6" lengthAdjust="spacingAndGlyphs">Ø55</text>
<line x1="828.3" y1="527.3" x2="914.5" y2="527.3" stroke="#222" stroke-width="1.6" fill="none"/>
<polygon points="905.0,446.3 912.0,468.8 898.0,468.8" fill="#000"/>
<polygon points="905.0,527.3 898.0,504.0 912.0,504.0" fill="#000"/>
<text x="848.8" y="495.8" font-size="34.5" textLength="110.9" lengthAdjust="spacingAndGlyphs">max.40</text>
<line x1="983.0" y1="685.0" x2="983.0" y2="717.0" stroke="#222" stroke-width="1.6" fill="none"/>
<line x1="1111.0" y1="685.0" x2="1111.0" y2="717.0" stroke="#222" stroke-width="1.6" fill="none"/>
<line x1="983.0" y1="691.6" x2="1111.0" y2="691.6" stroke="#222" stroke-width="1.6" fill="none"/>
<polygon points="983.0,691.6 1007.0,684.6 1007.0,698.6" fill="#000"/>
<polygon points="1111.0,691.6 1087.0,698.6 1087.0,684.6" fill="#000"/>
<text x="1016.5" y="677" font-size="34.5" textLength="63.6" lengthAdjust="spacingAndGlyphs">Ø63</text>
<line x1="1117.0" y1="725.0" x2="1167.0" y2="725.0" stroke="#222" stroke-width="1.6" fill="none"/>
<line x1="1110.0" y1="801.6" x2="1167.0" y2="801.6" stroke="#222" stroke-width="1.6" fill="none"/>
<polygon points="1161.0,725.0 1168.0,748.0 1154.0,748.0" fill="#000"/>
<polygon points="1161.0,801.6 1154.0,778.0 1168.0,778.0" fill="#000"/>
<text x="1119.5" y="772.4" font-size="34.5" textLength="84" lengthAdjust="spacingAndGlyphs">30-50</text>
<line x1="746.0" y1="771.6" x2="1046.0" y2="771.6" stroke="#222" stroke-width="1.6" fill="none"/>
<polygon points="746.0,771.6 766.0,764.6 766.0,778.6" fill="#000"/>
<polygon points="1046.0,771.6 1024.0,778.6 1024.0,764.6" fill="#000"/>
<text x="816" y="758" font-size="34.5" textLength="128.6" lengthAdjust="spacingAndGlyphs">max.150</text>
<line x1="1005.0" y1="914.7" x2="1005.0" y2="954.0" stroke="#222" stroke-width="1.6" fill="none"/>
<line x1="1089.0" y1="914.7" x2="1089.0" y2="954.0" stroke="#222" stroke-width="1.6" fill="none"/>
<line x1="903.8" y1="948.6" x2="1089.0" y2="948.6" stroke="#222" stroke-width="1.6" fill="none"/>
<polygon points="1005.0,948.6 1028.4,941.6 1028.4,955.6" fill="#000"/>
<polygon points="1089.0,948.6 1066.0,955.6 1066.0,941.6" fill="#000"/>
<text x="897.5" y="934.8" font-size="34.5" textLength="99.3" lengthAdjust="spacingAndGlyphs">G1 1/4</text>
<line x1="745.0" y1="1009.0" x2="745.0" y2="1040.0" stroke="#222" stroke-width="1.6" fill="none"/>
<line x1="775.8" y1="1009.0" x2="775.8" y2="1040.0" stroke="#222" stroke-width="1.6" fill="none"/>
<line x1="718.3" y1="1034.8" x2="889.2" y2="1034.8" stroke="#222" stroke-width="1.6" fill="none"/>
<polygon points="745.0,1034.8 721.7,1041.8 721.7,1027.8" fill="#000"/>
<polygon points="775.8,1034.8 799.2,1027.8 799.2,1041.8" fill="#000"/>
<text x="785.5" y="1020.8" font-size="34.5" textLength="107.5" lengthAdjust="spacingAndGlyphs">2xG3/8</text>
</g>
<rect x="0" y="1040" width="1200" height="160" fill="#fff"/>
</svg>
</body></html>
